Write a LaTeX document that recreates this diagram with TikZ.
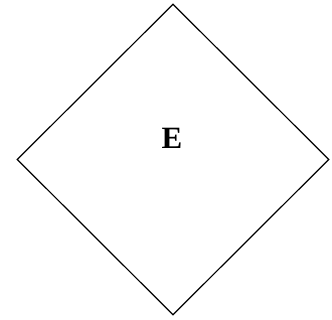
\documentclass[tikz,border=0pt]{standalone}
\usepackage{fontspec}
\setmainfont{Liberation Serif}
\usetikzlibrary{shapes.geometric}

\begin{document}
\begin{tikzpicture}[x=1pt,y=1pt]
	\useasboundingbox (0,0) rectangle (332,320);
	\node[diamond, draw, line width=1.2pt, minimum width=312pt, minimum height=311pt, inner sep=0pt] (rhombus) at (173,160.5) {};
	\node[font=\fontsize{31}{34}\selectfont\bfseries] (letter) at (172,182) {E};
\end{tikzpicture}
\end{document}
